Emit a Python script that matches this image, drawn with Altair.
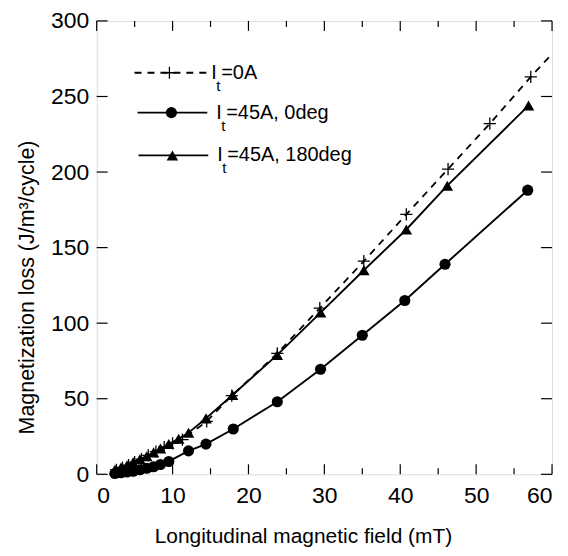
import altair as alt
import pandas as pd

# ---- data ----
# I_t = 0A  (plus markers, dashed line)
x_0A = [2.6, 3.4, 4.2, 5.0, 5.9, 6.8, 7.8, 8.9, 10.0, 11.3, 14.5, 17.8, 23.8, 29.4, 35.2, 40.8, 46.3, 51.8, 57.2]
y_0A = [3.0, 4.5, 6.0, 8.0, 10.0, 12.5, 15.0, 18.0, 20.5, 23.0, 35.0, 52.0, 80.0, 110.0, 141.0, 172.0, 202.0, 232.0, 263.0]
# dashed line continues a little past the last marker
x_0A_tail = [59.6]
y_0A_tail = [276.0]

# I_t = 45A, 0deg (circles)
x_0deg = [2.4, 3.2, 4.0, 4.8, 5.7, 6.6, 7.5, 8.4, 9.5, 12.1, 14.4, 18.0, 23.8, 29.5, 35.0, 40.6, 45.9, 56.8]
y_0deg = [0.5, 1.0, 1.5, 2.0, 3.0, 4.0, 5.0, 6.5, 8.5, 15.5, 20.0, 30.0, 48.0, 69.5, 92.0, 115.0, 139.0, 188.0]

# I_t = 45A, 180deg (triangles)
x_180deg = [2.4, 3.2, 4.0, 4.8, 5.7, 6.6, 7.5, 8.4, 9.5, 10.8, 12.1, 14.4, 17.9, 23.8, 29.5, 35.2, 40.8, 46.2, 56.9]
y_180deg = [3.0, 4.5, 6.0, 8.0, 10.0, 12.0, 14.5, 17.0, 20.0, 23.5, 27.5, 37.0, 52.5, 79.0, 107.0, 135.0, 162.0, 191.0, 244.0]

x_tick_labels = [0, 10, 20, 30, 40, 50, 60]
x_minor = [5, 15, 25, 35, 45, 55]
y_tick_labels = [0, 50, 100, 150, 200, 250, 300]

legend_main = ["=0A", "=45A, 0deg", "=45A, 180deg"]

# ---- layout ----
W, H = 457, 455
TOP = 12
FONT = "Liberation Sans"

df_0A = pd.DataFrame({"x": x_0A, "y": y_0A})
df_0A_line = pd.DataFrame({"x": x_0A + x_0A_tail, "y": y_0A + y_0A_tail})
df_0deg = pd.DataFrame({"x": x_0deg, "y": y_0deg})
df_180 = pd.DataFrame({"x": x_180deg, "y": y_180deg})

xs = alt.Scale(domain=[0, 60], nice=False, zero=False)
ys = alt.Scale(domain=[0, 300], nice=False, zero=False)

xaxis = alt.Axis(values=x_tick_labels, ticks=False, grid=False, domain=False,
                 labelFont=FONT, labelFontSize=23, labelColor="black", labelPadding=10,
                 title="Longitudinal magnetic field (mT)", titleFont=FONT, titleFontSize=21,
                 titleFontWeight="normal", titleColor="black", titlePadding=18, titleX=207)
yaxis = alt.Axis(values=y_tick_labels, ticks=False, grid=False, domain=False,
                 labelFont=FONT, labelFontSize=23, labelColor="black", labelPadding=8,
                 title="Magnetization loss (J/m³/cycle)", titleFont=FONT, titleFontSize=21.5,
                 titleFontWeight="normal", titleColor="black", titlePadding=12, titleY=267)

X = alt.X("x:Q", scale=xs, axis=xaxis)
Y = alt.Y("y:Q", scale=ys, axis=yaxis)

PLUS = "M-1,0L1,0M0,-1L0,1"

line_0A = alt.Chart(df_0A_line).mark_line(color="black", strokeWidth=1.8, strokeDash=[7, 6]).encode(x=X, y=Y, order="x:Q")
pts_0A = alt.Chart(df_0A).mark_point(shape=PLUS, size=150, filled=False, color="black", strokeWidth=1.3, opacity=1).encode(x=X, y=Y)
line_0deg = alt.Chart(df_0deg).mark_line(color="black", strokeWidth=1.9).encode(x=X, y=Y, order="x:Q")
pts_0deg = alt.Chart(df_0deg).mark_point(shape="circle", size=125, filled=True, color="black", opacity=1).encode(x=X, y=Y)
line_180 = alt.Chart(df_180).mark_line(color="black", strokeWidth=1.9).encode(x=X, y=Y, order="x:Q")
pts_180 = alt.Chart(df_180).mark_point(shape="triangle-up", size=135, filled=True, color="black", opacity=1).encode(x=X, y=Y)

# inward ticks on all four sides
df_xmaj = pd.DataFrame({"x": x_tick_labels})
df_xmin = pd.DataFrame({"x": x_minor})
df_ymaj = pd.DataFrame({"y": y_tick_labels})


def xticks(df, length):
    b = alt.Chart(df).mark_rule(color="black", strokeWidth=1.2).encode(x=X, y=alt.value(H), y2=alt.value(H - length))
    t = alt.Chart(df).mark_rule(color="black", strokeWidth=1.2).encode(x=X, y=alt.value(0), y2=alt.value(length))
    return [b, t]


def yticks(df, length):
    l = alt.Chart(df).mark_rule(color="black", strokeWidth=1.2).encode(y=Y, x=alt.value(0), x2=alt.value(length))
    r = alt.Chart(df).mark_rule(color="black", strokeWidth=1.2).encode(y=Y, x=alt.value(W), x2=alt.value(W - length))
    return [l, r]


tick_layers = xticks(df_xmaj, 10) + xticks(df_xmin, 6) + yticks(df_ymaj, 11)

# legend (drawn inside the plot area)
dummy = pd.DataFrame({"k": [0]})
rows = [
    # (y, line x0, line x1, marker x, I x, shape, dashed)
    (52, 38, 111, 73, 115, "plus", True),
    (92, 41, 111, 75, 120, "circle", False),
    (135, 42, 112, 76, 121, "triangle-up", False),
]
legend_layers = []
for (ry, lx0, lx1, mx, ix, shp, dashed), txt in zip(rows, legend_main):
    lk = dict(color="black", strokeWidth=1.8)
    if dashed:
        lk["strokeDash"] = [7, 6]
    legend_layers.append(alt.Chart(dummy).mark_rule(**lk).encode(
        x=alt.value(lx0), x2=alt.value(lx1), y=alt.value(ry)))
    if shp == "plus":
        mk = alt.Chart(dummy).mark_point(shape=PLUS, size=150, filled=False, color="black", strokeWidth=1.3, opacity=1)
    else:
        mk = alt.Chart(dummy).mark_point(shape=shp, size=125 if shp == "circle" else 135, filled=True, color="black", opacity=1)
    legend_layers.append(mk.encode(x=alt.value(mx), y=alt.value(ry)))
    legend_layers.append(alt.Chart(dummy).mark_text(text="I", font=FONT, fontSize=20, align="left", baseline="middle", color="black").encode(
        x=alt.value(ix), y=alt.value(ry)))
    legend_layers.append(alt.Chart(dummy).mark_text(text="t", font=FONT, fontSize=15, align="left", baseline="middle", color="black").encode(
        x=alt.value(ix + 5), y=alt.value(ry + 13)))
    legend_layers.append(alt.Chart(dummy).mark_text(text=txt, font=FONT, fontSize=20, align="left", baseline="middle", color="black").encode(
        x=alt.value(ix + 10), y=alt.value(ry)))

chart = alt.layer(
    line_0A, line_180, line_0deg, pts_0A, pts_180, pts_0deg, *tick_layers, *legend_layers
).properties(width=W, height=H, autosize=alt.AutoSizeParams(type="none"),
             padding={"left": 89, "top": TOP, "right": 8, "bottom": 75}
).configure_view(stroke="black", strokeWidth=1.5
).configure(background="white")

chart.save("out.html", embed_options={"renderer": "svg", "actions": False})
